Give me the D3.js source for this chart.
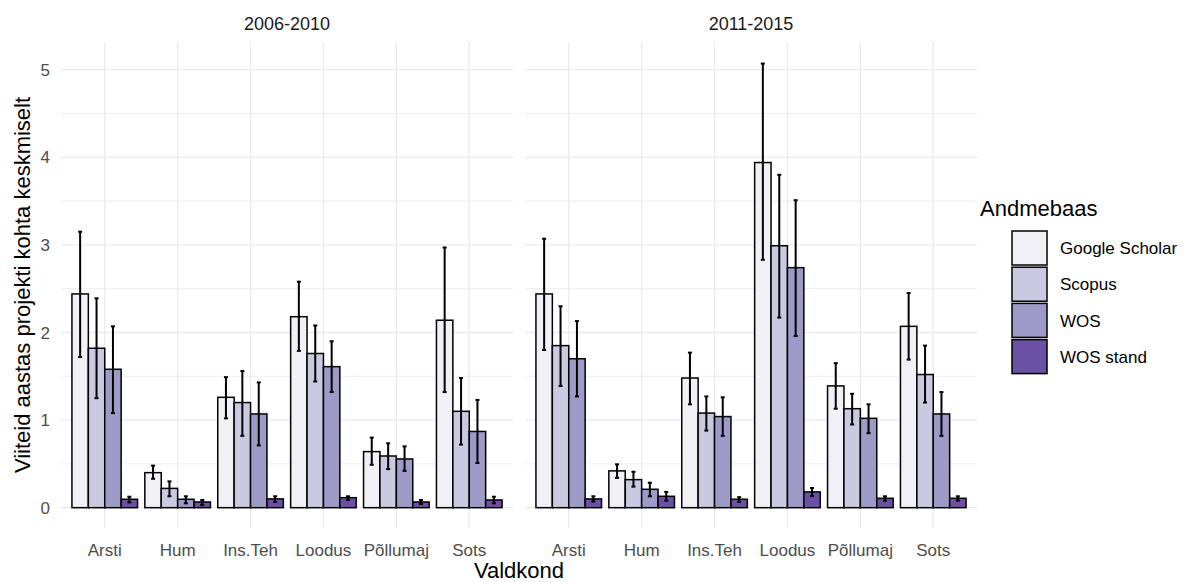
<!DOCTYPE html>
<html>
<head>
<meta charset="utf-8">
<script src="https://cdn.jsdelivr.net/npm/d3@7"></script>
<style>
  body { margin: 0; background: #fff; }
  svg { font-family: "Liberation Sans", Arial, sans-serif; }
</style>
</head>
<body>
<svg id="chart" width="1194" height="582"></svg>
<script>
var periods = ["2006-2010", "2011-2015"];
var categories = ["Arsti", "Hum", "Ins.Teh", "Loodus", "Põllumaj", "Sots"];
var databases = ["Google Scholar", "Scopus", "WOS", "WOS stand"];
var colors = ["#f2f0f7", "#cbc9e2", "#9e9ac8", "#6a51a3"];
var yTicks = [0, 1, 2, 3, 4, 5];

// mean per category, one value per database (GS, Scopus, WOS, WOS stand)
var mean0610 = [
  [2.44, 1.82, 1.58, 0.096],
  [0.40, 0.22, 0.096, 0.065],
  [1.26, 1.20, 1.07, 0.10],
  [2.18, 1.76, 1.61, 0.114],
  [0.64, 0.59, 0.556, 0.065],
  [2.14, 1.10, 0.87, 0.088]
];
var low0610 = [
  [1.72, 1.25, 1.08, 0.06],
  [0.33, 0.13, 0.05, 0.03],
  [1.02, 0.82, 0.71, 0.065],
  [1.79, 1.44, 1.32, 0.088],
  [0.49, 0.44, 0.42, 0.042],
  [1.32, 0.72, 0.51, 0.05]
];
var high0610 = [
  [3.15, 2.39, 2.07, 0.125],
  [0.48, 0.30, 0.13, 0.088],
  [1.49, 1.56, 1.43, 0.13],
  [2.58, 2.08, 1.90, 0.13],
  [0.80, 0.735, 0.70, 0.088],
  [2.97, 1.48, 1.23, 0.125]
];
var mean1115 = [
  [2.44, 1.85, 1.70, 0.10],
  [0.42, 0.32, 0.21, 0.13],
  [1.48, 1.08, 1.04, 0.096],
  [3.94, 2.99, 2.74, 0.18],
  [1.39, 1.13, 1.02, 0.107],
  [2.07, 1.52, 1.07, 0.107]
];
var low1115 = [
  [1.80, 1.39, 1.27, 0.07],
  [0.34, 0.24, 0.13, 0.08],
  [1.18, 0.88, 0.82, 0.065],
  [2.83, 2.17, 1.96, 0.134],
  [1.13, 0.95, 0.85, 0.08],
  [1.69, 1.20, 0.82, 0.08]
];
var high1115 = [
  [3.07, 2.30, 2.13, 0.13],
  [0.495, 0.41, 0.285, 0.18],
  [1.77, 1.27, 1.26, 0.12],
  [5.07, 3.80, 3.51, 0.225],
  [1.65, 1.30, 1.18, 0.13],
  [2.45, 1.85, 1.32, 0.13]
];

var panelData = [
  {mean: mean0610, low: low0610, high: high0610},
  {mean: mean1115, low: low1115, high: high1115}
];

var svg = d3.select("#chart");
var plotTop = 42, plotBottom = 528;
var panelX = [[61, 513], [525, 977]];

var y = d3.scaleLinear().domain([-0.232, 5.316]).range([plotBottom, plotTop]);
var fill = d3.scaleOrdinal().domain(databases).range(colors);

periods.forEach(function (period, p) {
  var x = d3.scalePoint().domain(categories).range(panelX[p]).padding(0.6);
  var step = x.step();
  var dodge = d3.scaleBand().domain(databases).range([-0.45 * step, 0.45 * step]);
  var g = svg.append("g");

  // minor grid
  g.selectAll(".minor").data(d3.range(0.5, 5.3, 1)).enter().append("line")
    .attr("x1", panelX[p][0]).attr("x2", panelX[p][1])
    .attr("y1", function (d) { return y(d); }).attr("y2", function (d) { return y(d); })
    .attr("stroke", "#ebebeb").attr("stroke-width", 0.8);
  // major grid
  g.selectAll(".hmajor").data(yTicks).enter().append("line")
    .attr("x1", panelX[p][0]).attr("x2", panelX[p][1])
    .attr("y1", function (d) { return y(d); }).attr("y2", function (d) { return y(d); })
    .attr("stroke", "#ebebeb").attr("stroke-width", 1.3);
  g.selectAll(".vmajor").data(categories).enter().append("line")
    .attr("x1", function (d) { return x(d); }).attr("x2", function (d) { return x(d); })
    .attr("y1", plotTop).attr("y2", plotBottom)
    .attr("stroke", "#ebebeb").attr("stroke-width", 1.3);

  // strip label
  svg.append("text")
    .attr("x", (panelX[p][0] + panelX[p][1]) / 2).attr("y", 30)
    .attr("text-anchor", "middle").attr("font-size", 18).attr("fill", "#1a1a1a")
    .text(period);

  // x tick labels
  g.selectAll(".xlab").data(categories).enter().append("text")
    .attr("x", function (d) { return x(d); }).attr("y", 556)
    .attr("text-anchor", "middle").attr("font-size", 17).attr("fill", "#4d4d4d")
    .text(function (d) { return d; });

  var rows = [];
  categories.forEach(function (c, i) {
    databases.forEach(function (db, j) {
      rows.push({cat: c, db: db, mean: panelData[p].mean[i][j],
        low: panelData[p].low[i][j], high: panelData[p].high[i][j]});
    });
  });

  g.selectAll(".bar").data(rows).enter().append("rect")
    .attr("x", function (d) { return x(d.cat) + dodge(d.db); })
    .attr("width", dodge.bandwidth())
    .attr("y", function (d) { return y(d.mean); })
    .attr("height", function (d) { return y(0) - y(d.mean); })
    .attr("fill", function (d) { return fill(d.db); })
    .attr("stroke", "#000").attr("stroke-width", 1.5);

  var eb = g.selectAll(".err").data(rows).enter().append("g")
    .attr("transform", function (d) { return "translate(" + (x(d.cat) + dodge(d.db) + dodge.bandwidth() / 2) + ",0)"; });
  eb.append("line")
    .attr("y1", function (d) { return y(d.low); }).attr("y2", function (d) { return y(d.high); })
    .attr("stroke", "#000").attr("stroke-width", 2);
  eb.append("line").attr("x1", -2).attr("x2", 2)
    .attr("y1", function (d) { return y(d.low); }).attr("y2", function (d) { return y(d.low); })
    .attr("stroke", "#000").attr("stroke-width", 2);
  eb.append("line").attr("x1", -2).attr("x2", 2)
    .attr("y1", function (d) { return y(d.high); }).attr("y2", function (d) { return y(d.high); })
    .attr("stroke", "#000").attr("stroke-width", 2);
});

// y axis labels
svg.selectAll(".ylab").data(yTicks).enter().append("text")
  .attr("x", 50).attr("y", function (d) { return y(d); }).attr("dy", "0.36em")
  .attr("text-anchor", "end").attr("font-size", 17).attr("fill", "#4d4d4d")
  .text(function (d) { return d; });

// axis titles
svg.append("text")
  .attr("x", (panelX[0][0] + panelX[1][1]) / 2).attr("y", 578)
  .attr("text-anchor", "middle").attr("font-size", 22).attr("fill", "#000")
  .text("Valdkond");
svg.append("text")
  .attr("transform", "translate(30," + ((plotTop + plotBottom) / 2) + ") rotate(-90)")
  .attr("text-anchor", "middle").attr("font-size", 22).attr("fill", "#000")
  .text("Viiteid aastas projekti kohta keskmiselt");

// legend
var legend = svg.append("g");
legend.append("text").attr("x", 980).attr("y", 216)
  .attr("font-size", 22).attr("fill", "#000").text("Andmebaas");
var items = legend.selectAll(".item").data(databases).enter().append("g")
  .attr("transform", function (d, i) { return "translate(1012," + (231 + i * 36.2) + ")"; });
items.append("rect").attr("width", 35).attr("height", 34)
  .attr("fill", function (d) { return fill(d); })
  .attr("stroke", "#000").attr("stroke-width", 1.5);
items.append("text").attr("x", 48).attr("y", 17).attr("dy", "0.36em")
  .attr("font-size", 17).attr("fill", "#000").text(function (d) { return d; });
</script>
</body>
</html>
